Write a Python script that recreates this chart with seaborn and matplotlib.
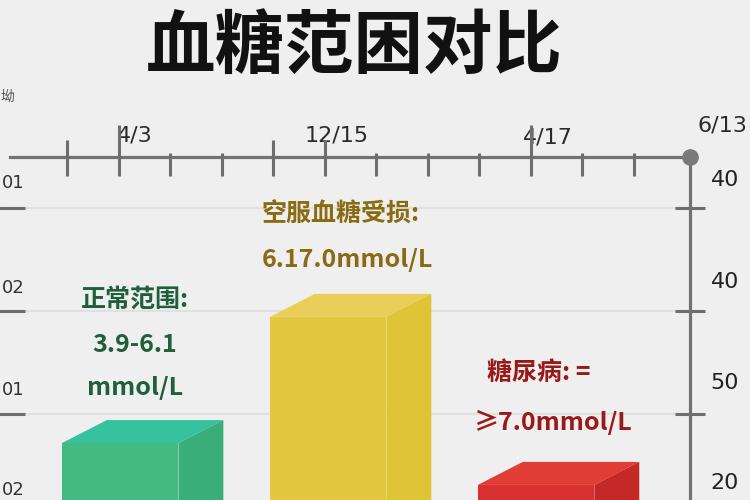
import numpy as np
import pandas as pd
import matplotlib
matplotlib.use("Agg")
import matplotlib.pyplot as plt
from matplotlib.patches import Polygon
import seaborn as sns

# ---- data ----
categories = ["正常范围", "空服血糖受损", "糖尿病"]
values = [16.6, 53.4, 4.4]
top_labels = ["4/3", "12/15", "4/17", "6/13"]
right_labels = ["40", "40", "50", "20"]
left_labels = ["01", "02", "01", "02"]
ann_lines = [["正常范围:", "3.9-6.1", "mmol/L"],
             ["空服血糖受损:", "6.17.0mmol/L"],
             ["糖尿病: =", "≥7.0mmol/L"]]

front_cols = ["#45b982", "#e3c83f", "#d93131"]
top_cols = ["#35c29c", "#e9cf5a", "#e13c36"]
side_cols = ["#3aae78", "#dfc436", "#c42827"]
text_cols = ["#1f5f3b", "#8a6a12", "#9a1a1a"]

sns.set_style("white")
plt.rcParams['font.family'] = ['Noto Sans CJK SC', 'DejaVu Sans']

BG = "#efefef"
fig = plt.figure(figsize=(7.5, 5), dpi=100, facecolor=BG)
ax = fig.add_axes([10/750, 0, 680/750, 343/500])
ax.set_facecolor(BG)

df = pd.DataFrame({"cat": categories, "val": values})
sns.barplot(data=df, x="cat", y="val", hue="cat", palette=front_cols,
            width=0.56, saturation=1, legend=False, ax=ax, zorder=3,
            linewidth=0, edgecolor="none")
ax.set_xlim(-0.53, 2.74)
ax.set_ylim(0, 100)

# 3D faces
dx, dy = 0.216, 6.7
for i, p in enumerate(ax.patches[:3]):
    p.set_linewidth(0)
    x0, w, h = p.get_x(), p.get_width(), p.get_height()
    top = Polygon([(x0, h), (x0 + dx, h + dy), (x0 + w + dx, h + dy), (x0 + w, h)],
                  closed=True, fc=top_cols[i], ec="none", zorder=3)
    side = Polygon([(x0 + w, h), (x0 + w + dx, h + dy), (x0 + w + dx, 0), (x0 + w, 0)],
                   closed=True, fc=side_cols[i], ec="none", zorder=3)
    ax.add_patch(top)
    ax.add_patch(side)

# spines
for s in ["left", "bottom"]:
    ax.spines[s].set_visible(False)
for s in ["top", "right"]:
    ax.spines[s].set_visible(True)
    ax.spines[s].set_color("#717171")
    ax.spines[s].set_linewidth(2.3)
ax.set_xlabel("")
ax.set_ylabel("")
ax.tick_params(axis="x", bottom=False, labelbottom=False)
ax.set_yticks([25, 55, 85])
ax.tick_params(axis="y", left=True, right=True, direction="inout", length=22,
               width=2.2, color="#6e6e6e", labelleft=False, labelright=False)
ax.grid(axis="y", color="#e0e0e0", lw=1.5)
ax.set_axisbelow(True)

# top tick axis
lim = (-1.107, 12.097)
axt = ax.twiny()
axt.set_xlim(lim)
axt.xaxis.remove_overlapping_locs = False
axt.set_xticks(range(12))
axt.set_xticks(range(12), minor=True)
axt.tick_params(axis="x", which="major", direction="in", length=14, width=2.2,
                color="#6e6e6e", labeltop=False)
axt.tick_params(axis="x", which="minor", direction="out", length=3, width=2.2,
                color="#6e6e6e")
axt2 = ax.twiny()
axt2.set_xlim(lim)
axt2.set_xticks([1, 9])
axt2.set_xticks([0, 4, 5], minor=True)
axt2.tick_params(axis="x", which="major", direction="out", length=23, width=2.2,
                 color="#6e6e6e", labeltop=False)
axt2.tick_params(axis="x", which="minor", direction="out", length=12, width=2.2,
                 color="#6e6e6e")
for a in (axt, axt2):
    for s in a.spines.values():
        s.set_visible(False)

# top labels
tpos = [1.32, 5.24, 9.34, 12.72]
tys = [1.064, 1.064, 1.058, 1.093]
for lab, xp, yp in zip(top_labels, tpos, tys):
    axt.text(xp, yp, lab, transform=axt.get_xaxis_transform(), ha="center",
             va="center", fontsize=16, color="#2a2a2a", family="DejaVu Sans",
             clip_on=False)

# right labels
for lab, yv in zip(right_labels, [93.3, 63.6, 34.1, 5.0]):
    ax.text(1.051, yv, lab, transform=ax.get_yaxis_transform(), ha="center",
            va="center", fontsize=16, color="#222222", family="DejaVu Sans",
            clip_on=False)
# left labels
for lab, yv in zip(left_labels, [92.4, 61.8, 32.0, 2.9]):
    ax.text(-0.012, yv, lab, transform=ax.get_yaxis_transform(), ha="left",
            va="center", fontsize=13, color="#333333", family="DejaVu Sans",
            clip_on=False)

# corner dot
ax.plot([1], [1], "o", transform=ax.transAxes, ms=11, color="#7a7a7a",
        clip_on=False, zorder=6)

# annotations
ann_pos = [[(0.071, 58.3), (0.071, 45.2), (0.071, 32.7)],
           [(0.68, 83.1), (0.68, 70.0)],
           [(1.763, 37.0), (1.696, 22.7)]]
ann_ha = ["center", "left", "left"]
for i, lines in enumerate(ann_lines):
    for txt, (xp, yp) in zip(lines, ann_pos[i]):
        ax.text(xp, yp, txt, ha=ann_ha[i], va="center", fontsize=18,
                fontweight="bold", color=text_cols[i], zorder=5)

# title and corner glyph
fig.text(0.473, 0.905, "血糖范困对比", ha="center", va="center", fontsize=50,
         fontweight="bold", color="#111111")
fig.text(0.001, 0.806, "坳", ha="left", va="center", fontsize=10, color="#555555")

fig.savefig("out.png", dpi=100, facecolor=BG)
